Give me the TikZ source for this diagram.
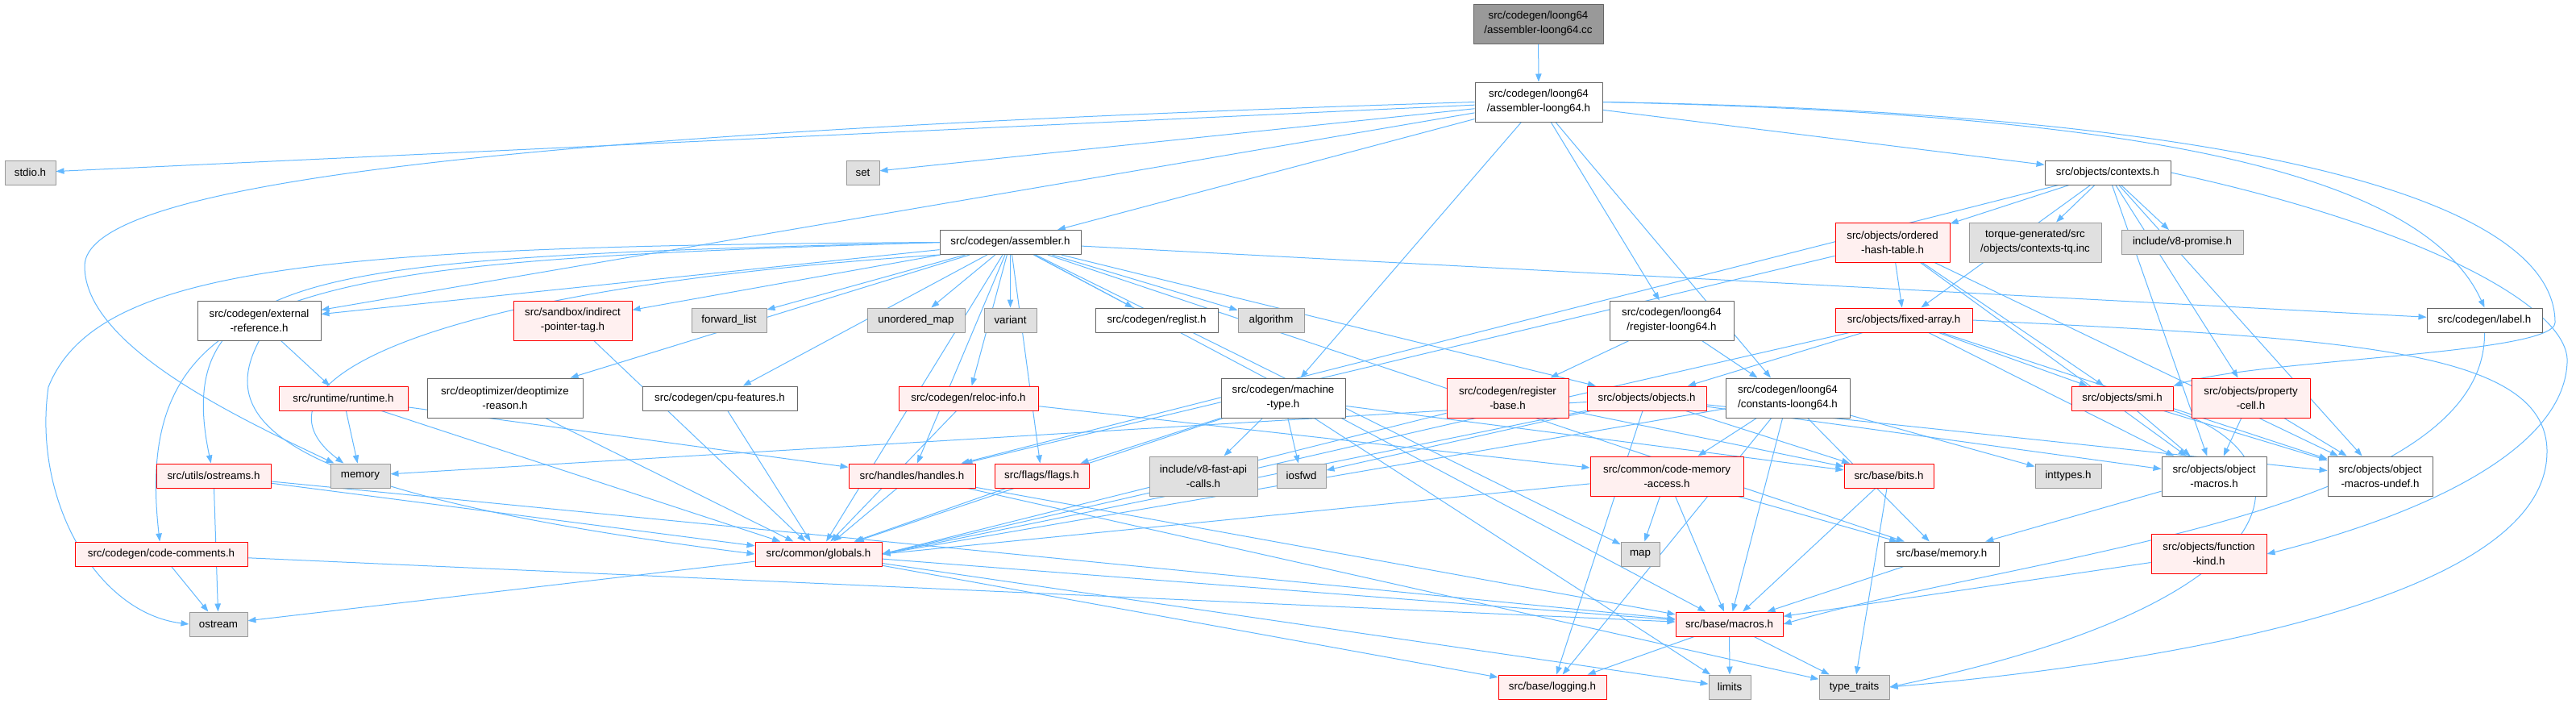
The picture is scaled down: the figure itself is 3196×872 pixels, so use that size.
\documentclass[tikz,border=0pt]{standalone}
\usepackage{fontspec}
\setmainfont{Liberation Sans}
\usetikzlibrary{arrows.meta}
\pgfdeclarelayer{edges}
\pgfsetlayers{edges,main}
\definecolor{edgeblue}{HTML}{63B8FF}
\definecolor{redfill}{HTML}{FFF0F0}
\definecolor{sysfill}{HTML}{E0E0E0}
\begin{document}
\begin{tikzpicture}[x=0.75pt,y=-0.75pt,>={Triangle[length=7.5pt,width=5.5pt]},
	font=\fontsize{10}{13.5}\selectfont, line join=round,
	sz/.style 2 args={minimum width=#1*0.75pt,minimum height=#2*0.75pt},
	hbox/.style={draw=black!60,fill=white,inner sep=0pt,align=center,line width=0.75pt},
	rbox/.style={hbox,draw=red,fill=redfill},
	sbox/.style={hbox,draw=black!40,fill=sysfill},
	rootbox/.style={hbox,draw=black!60,fill=black!40},
	dep/.style={->,draw=edgeblue,line width=0.75pt}]
	\useasboundingbox (0,0) rectangle (3196,872);
	\node[rootbox,sz={161}{49}] (cc) at (1908.5,29.5) {src/codegen/loong64\\/assembler-loong64.cc};
	\node[hbox,sz={158}{49}] (l64h) at (1909,126.5) {src/codegen/loong64\\/assembler-loong64.h};
	\node[sbox,sz={63}{30}] (stdio) at (37.5,214) {stdio.h};
	\node[sbox,sz={41}{30}] (set) at (1070.5,214) {set};
	\node[hbox,sz={156}{30}] (contexts) at (2615,214) {src/objects/contexts.h};
	\node[hbox,sz={175}{30}] (asm) at (1253.5,300.5) {src/codegen/assembler.h};
	\node[rbox,sz={142}{49}] (oht) at (2348,300.5) {src/objects/ordered\\-hash-table.h};
	\node[sbox,sz={164}{49}] (torque) at (2525,300.5) {torque-generated/src\\/objects/contexts-tq.inc};
	\node[sbox,sz={151}{30}] (promise) at (2707.5,300.5) {include/v8-promise.h};
	\node[hbox,sz={153}{49}] (extref) at (321.5,397.5) {src/codegen/external\\-reference.h};
	\node[rbox,sz={147}{49}] (iptag) at (710.5,397.5) {src/sandbox/indirect\\-pointer-tag.h};
	\node[sbox,sz={93}{30}] (fwdlist) at (904.5,397) {forward\_list};
	\node[sbox,sz={121}{30}] (umap) at (1136.5,397) {unordered\_map};
	\node[sbox,sz={65}{30}] (variant) at (1253.5,397) {variant};
	\node[hbox,sz={152}{30}] (reglist) at (1435,397) {src/codegen/reglist.h};
	\node[sbox,sz={82}{30}] (algorithm) at (1577,397) {algorithm};
	\node[hbox,sz={154}{49}] (regl64) at (2074,397.5) {src/codegen/loong64\\/register-loong64.h};
	\node[rbox,sz={170}{30}] (fixedarr) at (2362,397) {src/objects/fixed-array.h};
	\node[hbox,sz={143}{30}] (label) at (3082.5,397) {src/codegen/label.h};
	\node[rbox,sz={160}{30}] (runtime) at (426,494) {src/runtime/runtime.h};
	\node[hbox,sz={193}{49}] (deopt) at (626.5,493.5) {src/deoptimizer/deoptimize\\-reason.h};
	\node[hbox,sz={192}{30}] (cpufeat) at (893,494) {src/codegen/cpu-features.h};
	\node[rbox,sz={173}{30}] (relocinfo) at (1201.5,494) {src/codegen/reloc-info.h};
	\node[hbox,sz={154}{49}] (machtype) at (1592,493.5) {src/codegen/machine\\-type.h};
	\node[rbox,sz={151}{49}] (regbase) at (1870.5,493.5) {src/codegen/register\\-base.h};
	\node[rbox,sz={148}{30}] (objects) at (2043,494) {src/objects/objects.h};
	\node[hbox,sz={154}{49}] (constl64) at (2218,493.5) {src/codegen/loong64\\/constants-loong64.h};
	\node[rbox,sz={126}{30}] (smi) at (2633,494) {src/objects/smi.h};
	\node[rbox,sz={147}{49}] (propcell) at (2792.5,493.5) {src/objects/property\\-cell.h};
	\node[rbox,sz={142}{30}] (ostreams) at (265,590) {src/utils/ostreams.h};
	\node[sbox,sz={74}{30}] (memory) at (447,590) {memory};
	\node[rbox,sz={157}{30}] (handles) at (1131.5,590) {src/handles/handles.h};
	\node[rbox,sz={117}{30}] (flags) at (1292.5,590) {src/flags/flags.h};
	\node[sbox,sz={134}{49}] (fastapi) at (1493,590.5) {include/v8-fast-api\\-calls.h};
	\node[sbox,sz={61}{30}] (iosfwd) at (1614.5,590) {iosfwd};
	\node[rbox,sz={190}{49}] (cmaccess) at (2068,590.5) {src/common/code-memory\\-access.h};
	\node[rbox,sz={111}{30}] (bits) at (2343.5,590) {src/base/bits.h};
	\node[sbox,sz={82}{30}] (inttypes) at (2566,590) {inttypes.h};
	\node[hbox,sz={130}{49}] (objmacros) at (2747,590.5) {src/objects/object\\-macros.h};
	\node[hbox,sz={130}{49}] (objundef) at (2953,590.5) {src/objects/object\\-macros-undef.h};
	\node[rbox,sz={214}{30}] (codecomm) at (200,687) {src/codegen/code-comments.h};
	\node[rbox,sz={157}{30}] (globals) at (1015.5,687) {src/common/globals.h};
	\node[sbox,sz={48}{30}] (map) at (2035,687) {map};
	\node[hbox,sz={142}{30}] (basememory) at (2409,687) {src/base/memory.h};
	\node[rbox,sz={143}{49}] (funckind) at (2740.5,687) {src/objects/function\\-kind.h};
	\node[sbox,sz={72}{30}] (ostream) at (271,774) {ostream};
	\node[rbox,sz={133}{30}] (macros) at (2145.5,774) {src/base/macros.h};
	\node[rbox,sz={134}{30}] (logging) at (1926,852) {src/base/logging.h};
	\node[sbox,sz={52}{30}] (limits) at (2146,852) {limits};
	\node[sbox,sz={87}{30}] (typetraits) at (2300.5,852) {type\_traits};
	\begin{pgfonlayer}{edges}
	\draw[dep] (cc) -- (l64h);
	\foreach \t in {stdio,set,asm,extref,constl64,regl64,machtype,contexts}
		\draw[dep] (l64h) -- (\t);
	\draw[dep] (l64h.east) .. controls (2600,140) and (3000,200) .. (label.north);
	\draw[dep] (l64h.west) .. controls (600,165) and (105,230) .. (105,330) .. controls (105,430) and (300,520) .. (memory);
	\draw[dep] (l64h.east) .. controls (2800,140) and (3170,250) .. (3170,400) .. controls (3170,440) and (2800,445) .. (smi.north east);
	\foreach \t in {extref,iptag,fwdlist,umap,variant,reglist,algorithm,label,deopt,cpufeat,relocinfo,globals,handles,flags,objects,macros,basememory,map}
		\draw[dep] (asm) -- (\t);
	\draw[dep] (asm.south west) .. controls (500,360) and (300,480) .. (memory);
	\draw[dep] (asm.west) .. controls (400,305) and (120,330) .. (60,480) .. controls (40,620) and (120,760) .. (ostream.west);
	\draw[dep] (asm.west) .. controls (400,320) and (210,330) .. (ostreams);
	\draw[dep] (asm.west) .. controls (400,325) and (160,340) .. (codecomm);
	\draw[dep] (extref) -- (runtime);
	\draw[dep] (extref.south) .. controls (270,520) and (330,610) .. (globals.west);
	\foreach \s/\t in {runtime/memory,runtime/globals,runtime/handles,iptag/globals,deopt/globals,cpufeat/globals,
		ostreams/ostream,ostreams/globals,ostreams/macros,codecomm/ostream,codecomm/macros,relocinfo/globals,relocinfo/cmaccess,
		machtype/fastapi,machtype/iosfwd,machtype/globals,machtype/flags,machtype/bits,machtype/limits,
		regl64/regbase,regl64/constl64,regbase/bits,objects/memory,objects/iosfwd,objects/bits,objects/logging,
		objects/objmacros,objects/objundef,constl64/inttypes,constl64/cmaccess,constl64/logging,constl64/macros,constl64/basememory,
		contexts/oht,contexts/torque,contexts/promise,contexts/fixedarr,contexts/handles,contexts/propcell,contexts/objmacros,contexts/objundef,
		oht/fixedarr,oht/smi,oht/handles,oht/objmacros,oht/objundef,fixedarr/objects,fixedarr/smi,fixedarr/objmacros,fixedarr/objundef,
		smi/objmacros,smi/objundef,propcell/objmacros,propcell/objundef,cmaccess/map,cmaccess/basememory,cmaccess/macros,
		bits/macros,bits/typetraits,handles/globals,handles/macros,handles/typetraits,flags/globals,
		globals/ostream,globals/macros,globals/logging,globals/limits,basememory/macros,objmacros/basememory,funckind/macros,
		macros/logging,macros/limits,macros/typetraits}
		\draw[dep] (\s) -- (\t);
	% long ones into the right side of globals.h
	\foreach \s in {regbase,objects,constl64,cmaccess,fixedarr}
		\draw[dep] (\s) -- (globals.east);
	\draw[dep] (contexts.east) .. controls (3000,280) and (3190,380) .. (3185,450) .. controls (3180,560) and (3000,640) .. (funckind.east);
	\draw[dep] (fixedarr.east) .. controls (2900,420) and (3160,430) .. (3160,560) .. controls (3160,760) and (2600,830) .. (typetraits.east);
	\draw[dep] (smi.south east) .. controls (2860,560) and (2880,740) .. (typetraits.east);
	\draw[dep] (label.south) .. controls (3085,640) and (2500,690) .. (macros.east);
	\end{pgfonlayer}
\end{tikzpicture}
\end{document}
